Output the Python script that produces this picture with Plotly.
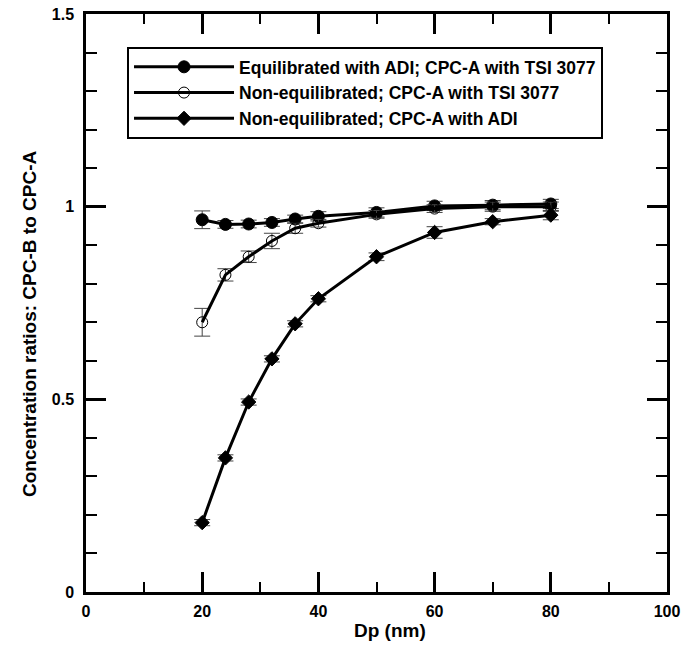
import plotly.graph_objects as go

dp = [20, 24, 28, 32, 36, 40, 50, 60, 70, 80]

eq_adi_tsi = [0.966, 0.954, 0.955, 0.959, 0.968, 0.975, 0.985, 1.002, 1.004, 1.007]
eq_adi_tsi_err = [0.023, 0.01, 0.01, 0.01, 0.01, 0.012, 0.012, 0.012, 0.012, 0.012]

noneq_tsi = [0.700, 0.823, 0.870, 0.911, 0.944, 0.957, 0.980, 0.995, 1.000, 1.000]
noneq_tsi_err = [0.036, 0.016, 0.015, 0.02, 0.013, 0.01, 0.01, 0.01, 0.012, 0.012]

noneq_adi = [0.180, 0.348, 0.493, 0.605, 0.696, 0.761, 0.870, 0.933, 0.961, 0.978]
noneq_adi_err = [0.008, 0.008, 0.008, 0.008, 0.008, 0.008, 0.01, 0.015, 0.008, 0.012]

names = [
    "Equilibrated with ADI; CPC-A with TSI 3077",
    "Non-equilibrated; CPC-A with TSI 3077",
    "Non-equilibrated; CPC-A with ADI",
]

x_ticks = [0, 20, 40, 60, 80, 100]
x_ticklabels = ["0", "20", "40", "60", "80", "100"]
y_ticks = [0, 0.5, 1, 1.5]
y_ticklabels = ["0", "0.5", "1", "1.5"]
x_title = "Dp (nm)"
y_title = "Concentration ratios: CPC-B to CPC-A"

fig = go.Figure()
series = [
    (eq_adi_tsi, eq_adi_tsi_err, "circle", 12),
    (noneq_tsi, noneq_tsi_err, "circle-open", 11),
    (noneq_adi, noneq_adi_err, "diamond", 11),
]
for (ys, errs, sym, sz), name in zip(series, names):
    fig.add_trace(go.Scatter(
        x=dp, y=ys, name=name, mode="lines+markers",
        line=dict(color="black", width=3),
        marker=dict(symbol=sym, size=sz, color="black",
                    line=dict(color="black", width=1)),
        error_y=dict(type="data", array=errs, visible=True,
                     color="#444444", thickness=1, width=8),
    ))

tickfont = dict(family="Liberation Sans", size=16, color="black")
titlefont = dict(family="Liberation Sans", size=19, color="black")

fig.update_xaxes(
    range=[0, 100], tickmode="array", tickvals=x_ticks,
    ticktext=["<b>%s</b>" % t for t in x_ticklabels],
    ticks="inside", ticklen=20, tickwidth=2.5, tickcolor="black",
    minor=dict(tickmode="linear", tick0=0, dtick=10, ticklen=10, ticks="inside",
               tickcolor="black", tickwidth=2, showgrid=False),
    showline=True, linecolor="black", linewidth=2.5, mirror="ticks",
    showgrid=False, zeroline=False, automargin=False,
    tickfont=tickfont, ticklabelstandoff=3,
)
fig.update_yaxes(
    range=[0, 1.5], tickmode="array", tickvals=y_ticks,
    ticktext=["<b>%s</b>" % t for t in y_ticklabels],
    ticks="inside", ticklen=20, tickwidth=2.5, tickcolor="black",
    minor=dict(tickmode="linear", tick0=0, dtick=0.1, ticklen=11, ticks="inside",
               tickcolor="black", tickwidth=2, showgrid=False),
    showline=True, linecolor="black", linewidth=2.5, mirror="ticks",
    showgrid=False, zeroline=False, automargin=False,
    tickfont=tickfont, ticklabelstandoff=6,
)

fig.add_annotation(text="<b>%s</b>" % x_title, xref="paper", yref="paper",
                   x=0.523, y=-0.066, xanchor="center", yanchor="middle",
                   showarrow=False, font=titlefont)
fig.add_annotation(text="<b>%s</b>" % y_title, xref="paper", yref="paper",
                   x=-0.096, y=0.464, xanchor="center", yanchor="middle",
                   textangle=-90, showarrow=False, font=titlefont)

fig.update_layout(
    width=692, height=645,
    margin=dict(l=86, r=25, t=14, b=53),
    paper_bgcolor="white", plot_bgcolor="white",
    showlegend=True,
    legend=dict(
        x=0.0706, y=0.943, xanchor="left", yanchor="top",
        bgcolor="white", bordercolor="black", borderwidth=2,
        font=dict(family="Liberation Sans", size=17.5, color="black", weight="bold"),
        itemwidth=100,
    ),
)

fig.write_html("out.html", config={"displayModeBar": False},
               post_script="document.body.style.margin='0px';")
